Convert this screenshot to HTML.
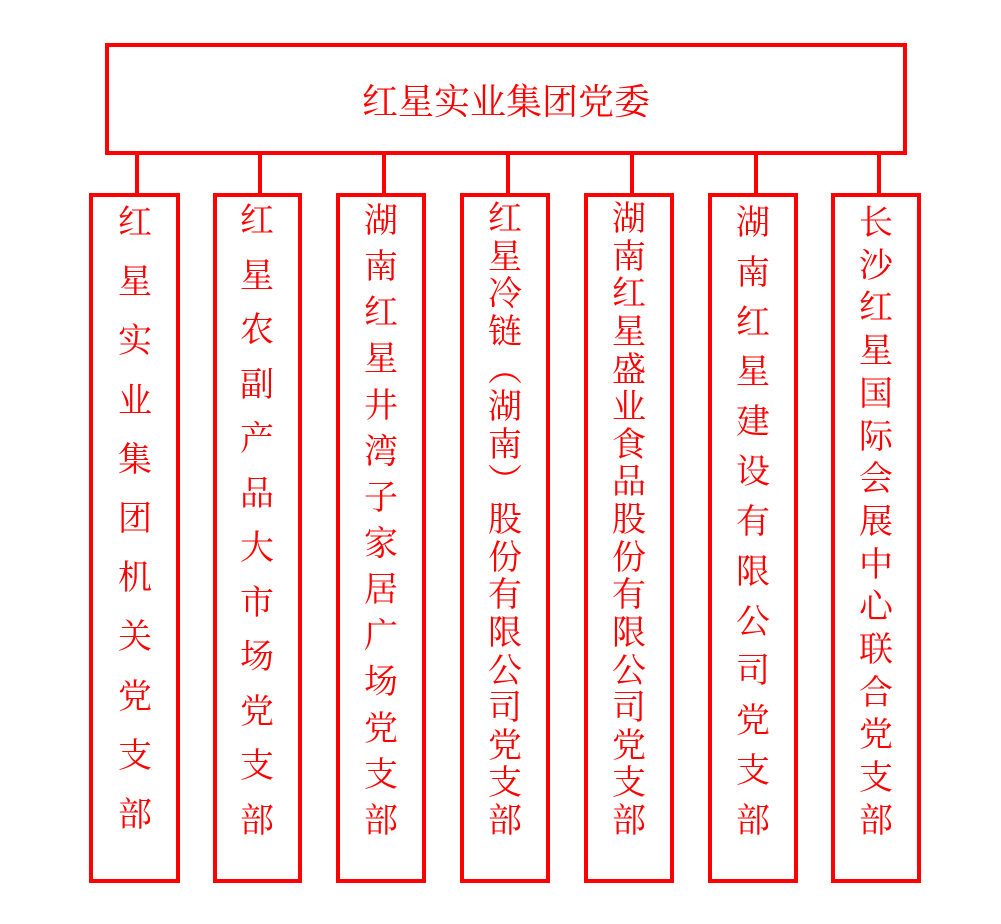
<!DOCTYPE html>
<html><head><meta charset="utf-8"><style>
body{margin:0;width:1001px;height:924px;background:#fff;position:relative;overflow:hidden;font-family:"Liberation Serif","Noto Serif CJK SC",serif;color:#f00}
.b{position:absolute;border:4px solid #f00;box-sizing:border-box;background:#fff}
.l{position:absolute;width:4px;background:#f00;top:152px;height:43px}
.c{position:absolute;display:flex;flex-direction:column;justify-content:space-between;align-items:center;font-size:34px;line-height:36px}
</style></head><body>
<div class="b" style="left:105px;top:43px;width:802px;height:112px;display:flex;align-items:center;justify-content:center;font-size:36px">红星实业集团党委</div>
<div class="l" style="left:135px"></div><div class="l" style="left:258px"></div><div class="l" style="left:382px"></div><div class="l" style="left:506px"></div><div class="l" style="left:630px"></div><div class="l" style="left:754px"></div><div class="l" style="left:877px"></div>
<div class="b" style="left:89px;top:193px;width:91px;height:690px"></div>
<div class="b" style="left:213px;top:193px;width:89px;height:690px"></div>
<div class="b" style="left:336px;top:193px;width:90px;height:690px"></div>
<div class="b" style="left:460px;top:193px;width:90px;height:690px"></div>
<div class="b" style="left:584px;top:193px;width:90px;height:690px"></div>
<div class="b" style="left:708px;top:193px;width:90px;height:690px"></div>
<div class="b" style="left:831px;top:193px;width:90px;height:690px"></div>
<div class="c" style="left:100px;width:70px;top:206px;height:628px"><span>红</span><span>星</span><span>实</span><span>业</span><span>集</span><span>团</span><span>机</span><span>关</span><span>党</span><span>支</span><span>部</span></div>
<div class="c" style="left:222px;width:70px;top:204px;height:636px"><span>红</span><span>星</span><span>农</span><span>副</span><span>产</span><span>品</span><span>大</span><span>市</span><span>场</span><span>党</span><span>支</span><span>部</span></div>
<div class="c" style="left:346px;width:70px;top:204px;height:636px"><span>湖</span><span>南</span><span>红</span><span>星</span><span>井</span><span>湾</span><span>子</span><span>家</span><span>居</span><span>广</span><span>场</span><span>党</span><span>支</span><span>部</span></div>
<div class="c" style="left:470px;width:70px;top:202px;height:638px"><span>红</span><span>星</span><span>冷</span><span>链</span><span>︵</span><span>湖</span><span>南</span><span>︶</span><span>股</span><span>份</span><span>有</span><span>限</span><span>公</span><span>司</span><span>党</span><span>支</span><span>部</span></div>
<div class="c" style="left:594px;width:70px;top:202px;height:638px"><span>湖</span><span>南</span><span>红</span><span>星</span><span>盛</span><span>业</span><span>食</span><span>品</span><span>股</span><span>份</span><span>有</span><span>限</span><span>公</span><span>司</span><span>党</span><span>支</span><span>部</span></div>
<div class="c" style="left:718px;width:70px;top:206px;height:634px"><span>湖</span><span>南</span><span>红</span><span>星</span><span>建</span><span>设</span><span>有</span><span>限</span><span>公</span><span>司</span><span>党</span><span>支</span><span>部</span></div>
<div class="c" style="left:841px;width:70px;top:206px;height:634px"><span>长</span><span>沙</span><span>红</span><span>星</span><span>国</span><span>际</span><span>会</span><span>展</span><span>中</span><span>心</span><span>联</span><span>合</span><span>党</span><span>支</span><span>部</span></div>
</body></html>
